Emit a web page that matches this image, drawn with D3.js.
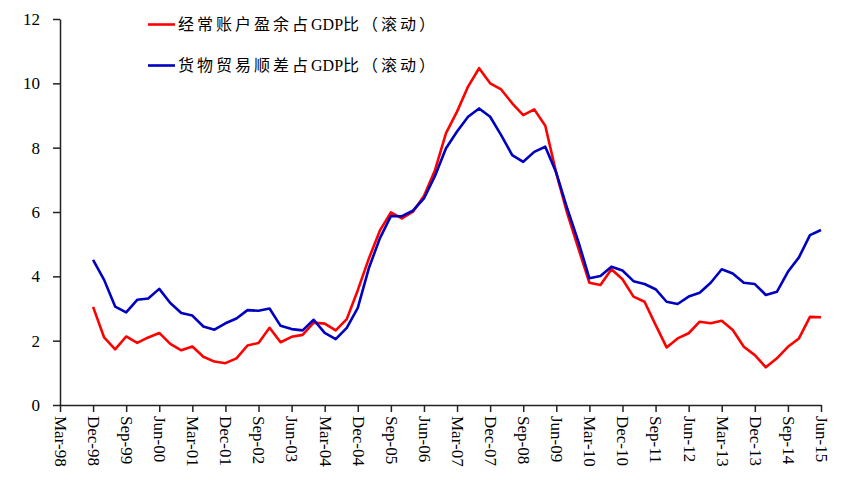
<!DOCTYPE html>
<html>
<head>
<meta charset="utf-8">
<script src="https://cdn.jsdelivr.net/npm/d3@7"></script>
<style>
  html, body { margin: 0; padding: 0; background: #fff; }
  svg { display: block; }
</style>
</head>
<body>
<svg id="chart" width="866" height="493"></svg>
<script>
// ---- Data ----
const quarters = [
  "Dec-98","Mar-99","Jun-99","Sep-99","Dec-99","Mar-00","Jun-00","Sep-00","Dec-00","Mar-01",
  "Jun-01","Sep-01","Dec-01","Mar-02","Jun-02","Sep-02","Dec-02","Mar-03","Jun-03","Sep-03",
  "Dec-03","Mar-04","Jun-04","Sep-04","Dec-04","Mar-05","Jun-05","Sep-05","Dec-05","Mar-06",
  "Jun-06","Sep-06","Dec-06","Mar-07","Jun-07","Sep-07","Dec-07","Mar-08","Jun-08","Sep-08",
  "Dec-08","Mar-09","Jun-09","Sep-09","Dec-09","Mar-10","Jun-10","Sep-10","Dec-10","Mar-11",
  "Jun-11","Sep-11","Dec-11","Mar-12","Jun-12","Sep-12","Dec-12","Mar-13","Jun-13","Sep-13",
  "Dec-13","Mar-14","Jun-14","Sep-14","Dec-14","Mar-15","Jun-15"
];
const currentAccount = [
  3.05, 2.10, 1.73, 2.13, 1.93, 2.10, 2.24, 1.90, 1.70, 1.82,
  1.50, 1.35, 1.30, 1.45, 1.85, 1.93, 2.40, 1.95, 2.12, 2.18,
  2.56, 2.53, 2.32, 2.67, 3.57, 4.55, 5.42, 5.99, 5.80, 6.01,
  6.50, 7.30, 8.45, 9.12, 9.90, 10.47, 10.00, 9.81, 9.38, 9.01,
  9.19, 8.68, 7.20, 5.95, 4.87, 3.80, 3.73, 4.22, 3.91, 3.37,
  3.21, 2.49, 1.79, 2.07, 2.23, 2.59, 2.54, 2.62, 2.33, 1.81,
  1.55, 1.17, 1.45, 1.81, 2.07, 2.74, 2.73
];
const tradeBalance = [
  4.51, 3.89, 3.06, 2.88, 3.27, 3.31, 3.61, 3.17, 2.86, 2.78,
  2.44, 2.34, 2.54, 2.69, 2.95, 2.93, 3.00, 2.46, 2.36, 2.32,
  2.65, 2.24, 2.05, 2.40, 3.02, 4.25, 5.18, 5.87, 5.87, 6.04,
  6.42, 7.12, 7.98, 8.50, 8.96, 9.22, 8.96, 8.39, 7.77, 7.56,
  7.87, 8.03, 7.22, 6.10, 5.08, 3.94, 4.01, 4.30, 4.18, 3.85,
  3.76, 3.60, 3.21, 3.14, 3.37, 3.49, 3.80, 4.22, 4.09, 3.80,
  3.76, 3.42, 3.52, 4.14, 4.59, 5.28, 5.44
];
const xTickLabels = [
  "Mar-98","Dec-98","Sep-99","Jun-00","Mar-01","Dec-01","Sep-02","Jun-03","Mar-04","Dec-04",
  "Sep-05","Jun-06","Mar-07","Dec-07","Sep-08","Jun-09","Mar-10","Dec-10","Sep-11","Jun-12",
  "Mar-13","Dec-13","Sep-14","Jun-15"
];
const yTicks = [0, 2, 4, 6, 8, 10, 12];
const seriesNames = ["经常账户盈余占GDP比（滚动）", "货物贸易顺差占GDP比（滚动）"];
const seriesColors = ["#ff0000", "#0000c0"];

// ---- Helpers ----
const monthIdx = {Mar: 0, Jun: 1, Sep: 2, Dec: 3};
function qIndex(label) {
  const [m, yr] = label.split("-");
  const yy = +yr < 50 ? 2000 + +yr : 1900 + +yr;
  return yy * 4 + monthIdx[m];
}

// ---- Layout ----
const svg = d3.select("#chart");
const mLeft = 60, mRight = 821, mTop = 19, mBottom = 405;
const fontSerif = "'Liberation Serif', 'Times New Roman', 'Noto Sans CJK SC', serif";

const x = d3.scaleLinear()
  .domain([qIndex(xTickLabels[0]), qIndex(xTickLabels[xTickLabels.length - 1])])
  .range([mLeft, mRight]);
const y = d3.scaleLinear().domain([0, 12]).range([mBottom, mTop]);

// Y axis
const yAxis = svg.append("g")
  .attr("transform", `translate(${mLeft},0)`)
  .call(d3.axisLeft(y).tickValues(yTicks).tickSize(7).tickSizeOuter(0).tickPadding(13).tickFormat(d3.format("d")));
yAxis.selectAll("text").attr("font-family", fontSerif).attr("font-size", 17).attr("fill", "#000");
yAxis.selectAll("line, path").attr("stroke", "#222").attr("stroke-width", 1.5);

// X axis
const xAxis = svg.append("g")
  .attr("transform", `translate(0,${mBottom})`)
  .call(d3.axisBottom(x).tickValues(xTickLabels.map(qIndex)).tickSize(7).tickSizeOuter(0)
    .tickFormat((d, i) => xTickLabels[i]));
xAxis.selectAll("line, path").attr("stroke", "#222").attr("stroke-width", 1.5);
xAxis.selectAll("text")
  .attr("font-family", fontSerif).attr("font-size", 17).attr("fill", "#000")
  .attr("text-anchor", "start")
  .attr("x", 0).attr("y", 0).attr("dy", "0.33em")
  .attr("transform", "translate(0,11) rotate(90)");

// Lines
const series = [currentAccount, tradeBalance];
const line = d3.line()
  .x((d, i) => x(qIndex(quarters[i])))
  .y(d => y(d));
series.forEach((vals, k) => {
  svg.append("path")
    .datum(vals)
    .attr("fill", "none")
    .attr("stroke", seriesColors[k])
    .attr("stroke-width", 2.6)
    .attr("stroke-linejoin", "round")
    .attr("d", line);
});

// Legend
const legendY = [24.5, 65.5];
seriesNames.forEach((name, k) => {
  svg.append("line")
    .attr("x1", 148).attr("x2", 175)
    .attr("y1", legendY[k]).attr("y2", legendY[k])
    .attr("stroke", seriesColors[k]).attr("stroke-width", 2.6);
  const t = svg.append("text")
    .attr("x", 178).attr("y", legendY[k]).attr("dy", "0.36em")
    .attr("font-family", fontSerif).attr("font-size", 16)
    .attr("fill", "#000");
  // split into Latin / CJK runs; CJK runs get wider spacing like the original
  const runs = name.match(/[A-Za-z0-9]+|[^A-Za-z0-9]+/g);
  runs.forEach(r => {
    t.append("tspan")
      .attr("letter-spacing", /[A-Za-z0-9]/.test(r) ? 0 : 3)
      .text(r);
  });
});
</script>
</body>
</html>
